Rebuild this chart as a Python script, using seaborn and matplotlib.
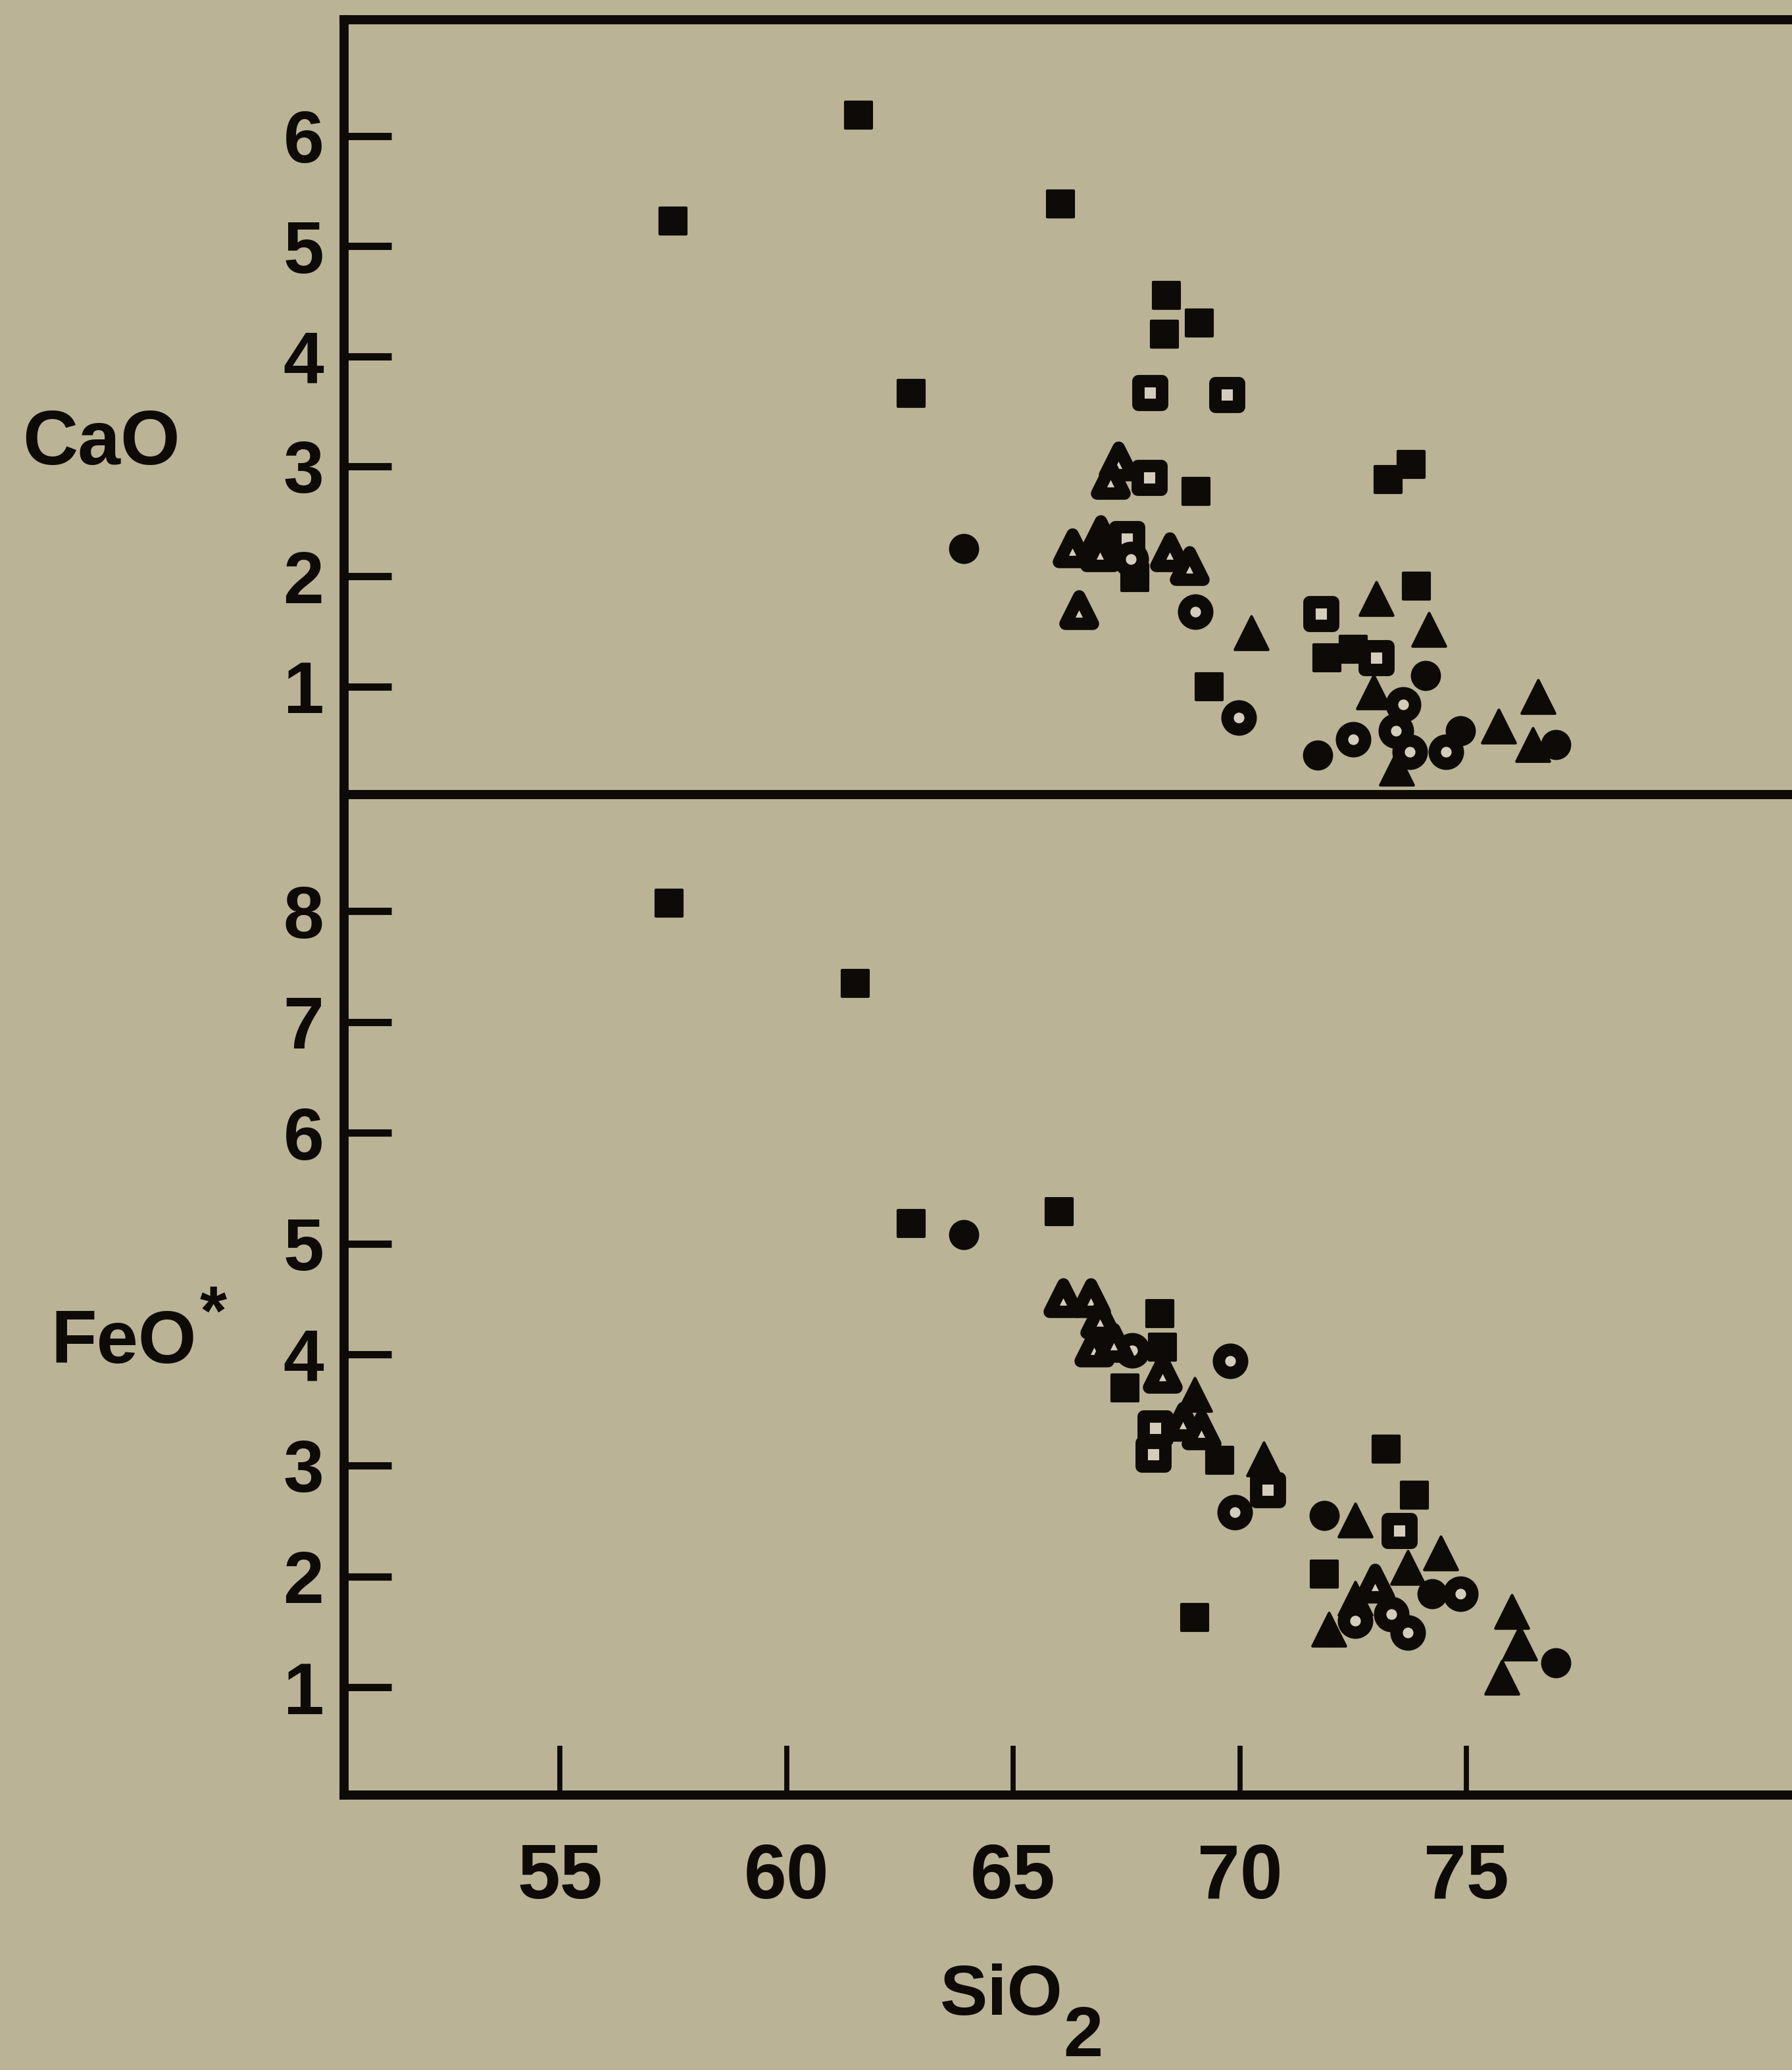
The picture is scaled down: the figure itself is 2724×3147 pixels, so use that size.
import matplotlib
matplotlib.use("Agg")
import matplotlib.pyplot as plt
import seaborn as sns

# --- CaO panel (SiO2, CaO) ---
cao_fsq_si = [57.5, 61.59, 66.04, 62.75, 68.38, 68.34, 69.11, 69.04, 67.69, 69.33, 71.92, 72.5, 73.27, 73.78, 73.9]
cao_fsq = [5.23, 6.19, 5.38, 3.66, 4.55, 4.20, 4.30, 2.77, 1.99, 1.00, 1.26, 1.34, 2.88, 3.02, 1.91]
cao_fci_si = [63.91, 74.1, 71.72, 74.87, 76.97]
cao_fci = [2.25, 1.10, 0.38, 0.60, 0.47]
cao_ftr_si = [70.25, 73.01, 74.17, 73.46, 75.71, 76.58, 76.47, 72.95]
cao_ftr = [1.49, 1.80, 1.52, 0.26, 0.64, 0.91, 0.47, 0.95]
cao_osq_si = [68.02, 69.72, 68.0, 67.51, 71.79, 73.01]
cao_osq = [3.67, 3.65, 2.90, 2.34, 1.66, 1.26]
cao_oci_si = [67.6, 69.02, 69.98, 72.5, 73.45, 73.75, 74.55, 73.6]
cao_oci = [2.16, 1.68, 0.72, 0.52, 0.60, 0.41, 0.41, 0.84]
cao_otr_si = [67.32, 67.15, 66.31, 66.93, 66.92, 68.45, 68.89, 66.45]
cao_otr = [3.05, 2.88, 2.26, 2.38, 2.22, 2.22, 2.10, 1.70]

# --- FeO* panel (SiO2, FeO*) ---
feo_fsq_si = [57.41, 61.52, 62.75, 66.02, 68.24, 68.3, 67.47, 69.56, 73.23, 73.85, 71.87, 69.0]
feo_fsq = [8.07, 7.35, 5.18, 5.29, 4.37, 4.07, 3.70, 3.05, 3.15, 2.73, 2.02, 1.63]
feo_fci_si = [63.91, 71.87, 74.24, 76.97]
feo_fci = [5.08, 2.55, 1.84, 1.22]
feo_ftr_si = [69.0, 70.53, 72.55, 74.43, 71.97, 72.55, 73.71, 76.0, 76.18, 75.78]
feo_ftr = [3.64, 3.06, 2.51, 2.21, 1.52, 1.80, 2.08, 1.68, 1.40, 1.09]
feo_osq_si = [68.13, 68.09, 70.62, 73.52]
feo_osq = [3.34, 3.10, 2.78, 2.41]
feo_oci_si = [67.63, 69.79, 69.89, 74.87, 72.55, 73.35, 73.71]
feo_oci = [4.04, 3.94, 2.58, 1.84, 1.60, 1.66, 1.49]
feo_otr_si = [66.1, 66.71, 66.91, 66.78, 67.22, 68.3, 68.75, 69.15, 72.98]
feo_otr = [4.51, 4.51, 4.32, 4.07, 4.11, 3.83, 3.40, 3.32, 1.94]

cao_ticks = [1, 2, 3, 4, 5, 6]
feo_ticks = [1, 2, 3, 4, 5, 6, 7, 8]
sio2_ticks = [55, 60, 65, 70, 75]

BG = "#bab396"
INK = "#0e0a07"
HOLE = "#d3cebb"

sns.set_style("white")
plt.rcParams["font.family"] = ["Liberation Sans", "DejaVu Sans"]
plt.rcParams["font.weight"] = "bold"

styles = {
    "fsq": dict(marker="s", s=205, color=INK, edgecolor=INK, linewidth=1.5),
    "fci": dict(marker="o", s=225, color=INK, edgecolor=INK, linewidth=1.5),
    "ftr": dict(marker="^", s=330, color=INK, edgecolor=INK, linewidth=1.5),
    "osq": dict(marker="s", s=170, color=HOLE, edgecolor=INK, linewidth=6.8),
    "oci": dict(marker="o", s=160, color=HOLE, edgecolor=INK, linewidth=6.8),
    "otr": dict(marker="^", s=225, color=HOLE, edgecolor=INK, linewidth=6.8),
}

fig = plt.figure(figsize=(13.62, 15.735), dpi=200, facecolor=BG)
ax_top = fig.add_axes([0.192, 0.6161, 0.858, 0.3744])
ax_bot = fig.add_axes([0.192, 0.1328, 0.858, 0.4833])

top_series = [
    ("fsq", cao_fsq_si, cao_fsq), ("fci", cao_fci_si, cao_fci), ("ftr", cao_ftr_si, cao_ftr),
    ("osq", cao_osq_si, cao_osq), ("oci", cao_oci_si, cao_oci), ("otr", cao_otr_si, cao_otr),
]
bot_series = [
    ("fsq", feo_fsq_si, feo_fsq), ("fci", feo_fci_si, feo_fci), ("ftr", feo_ftr_si, feo_ftr),
    ("osq", feo_osq_si, feo_osq), ("oci", feo_oci_si, feo_oci), ("otr", feo_otr_si, feo_otr),
]

for ax, series in [(ax_top, top_series), (ax_bot, bot_series)]:
    ax.set_facecolor(BG)
    for key, xs, ys in series:
        sns.scatterplot(x=xs, y=ys, ax=ax, legend=False, zorder=3, **styles[key])
    for coll in ax.collections:
        coll.set_joinstyle("round")
    for side, sp in ax.spines.items():
        sp.set_color(INK)
        sp.set_linewidth(5)
    ax.spines["right"].set_visible(False)
    ax.set_xlim(50.24, 84.16)
    ax.set_xlabel("")
    ax.set_ylabel("")

# y ticks point inward, with bold numbers on the left
ax_top.set_ylim(0.018, 7.056)
ax_top.set_yticks(cao_ticks)
ax_top.set_xticks([])
ax_top.tick_params(axis="y", left=True, direction="in", length=26, width=4,
                   labelsize=40, pad=11, colors=INK)

ax_bot.set_ylim(0.027, 9.05)
ax_bot.set_yticks(feo_ticks)
ax_bot.set_xticks(sio2_ticks)
ax_bot.tick_params(axis="y", left=True, direction="in", length=26, width=4,
                   labelsize=40, pad=11, colors=INK)
ax_bot.tick_params(axis="x", bottom=True, direction="in", length=27, width=2.8,
                   labelsize=42, pad=26, colors=INK)

# axis titles
fig.text(0.0125, 0.7855, "CaO", fontsize=42, ha="left", va="center", color=INK)
fig.text(0.0285, 0.3508, "FeO", fontsize=41, ha="left", va="center", color=INK)
fig.text(0.1115, 0.364, "*", fontsize=38, ha="left", va="center", color=INK)
fig.text(0.559, 0.0356, "SiO", fontsize=39, ha="center", va="center", color=INK)
fig.text(0.6045, 0.0155, "2", fontsize=39, ha="center", va="center", color=INK)

fig.savefig("out.png", dpi=200, facecolor=BG)
